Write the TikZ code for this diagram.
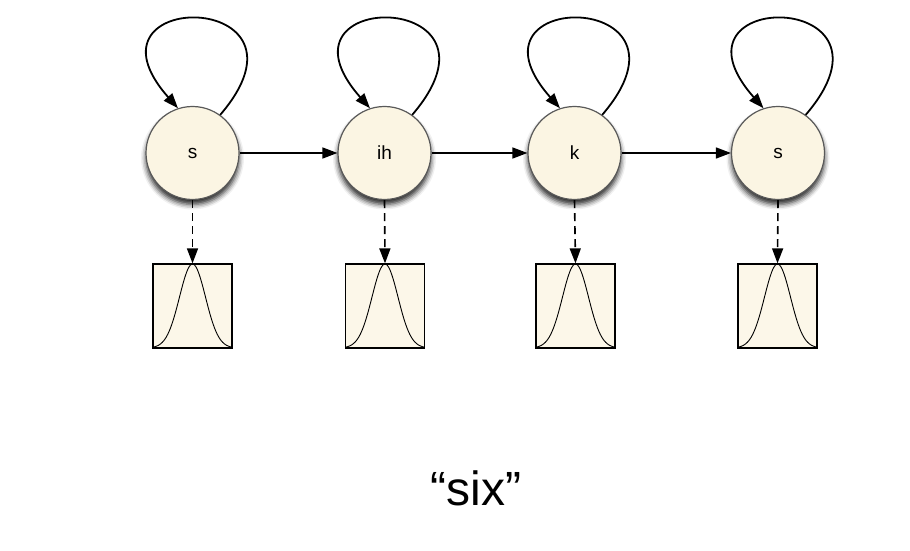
\documentclass[tikz,border=0pt]{standalone}
\usepackage{fontspec}
\setmainfont{Liberation Sans}
\usetikzlibrary{arrows.meta,shadows.blur}
\definecolor{cream}{HTML}{FBF5E3}
\definecolor{boxcream}{HTML}{FCF7E9}
\tikzset{
  state/.style={circle, draw=black!65, line width=1.2pt, fill=cream, minimum size=93pt, inner sep=0pt,
    font=\fontsize{19}{22}\selectfont,
    blur shadow={shadow xshift=0pt, shadow yshift=-5pt, shadow blur radius=5pt, shadow opacity=85}},
  emis/.style={rectangle, draw=black, line width=1.3pt, fill=boxcream, minimum width=79pt, minimum height=84pt, inner sep=0pt},
  tip/.style={-{Triangle[length=15pt,width=11pt]}},
  trans/.style={tip, line width=1.6pt},
  emit/.style={tip, line width=1.6pt, dash pattern=on 8pt off 5pt},
  selfloop/.style={tip, line width=1.8pt},
  gauss/.style={line width=0.9pt}
}
\begin{document}
\begin{tikzpicture}[x=1pt,y=1pt]
\useasboundingbox (0,0) rectangle (910,550);
\foreach \n/\x/\bx/\lab in {a/192.5/192.5/s, b/384.5/385/ih, c/574.5/575.5/k, d/778/777.5/s}{
  \node[state] (\n) at (\x,397) {\lab};
  \node[emis] (\n box) at (\bx,244) {};
  \draw[gauss] plot[domain=-39.5:39.5, samples=60, smooth] ({\bx+\x*1}, {202+84*exp(-(\x*\x)/(2*13*13))});
  \draw[selfloop] (\n.54) .. controls +(108,126) and +(-107,121) .. (\n.108);
  \draw[emit] (\n.south) -- (\n box.north);
}
\draw[trans] (a) -- (b);
\draw[trans] (b) -- (c);
\draw[trans] (c) -- (d);
\node[font=\fontsize{48}{54}\selectfont] (word) at (476,62) {“six”};
\end{tikzpicture}
\end{document}
